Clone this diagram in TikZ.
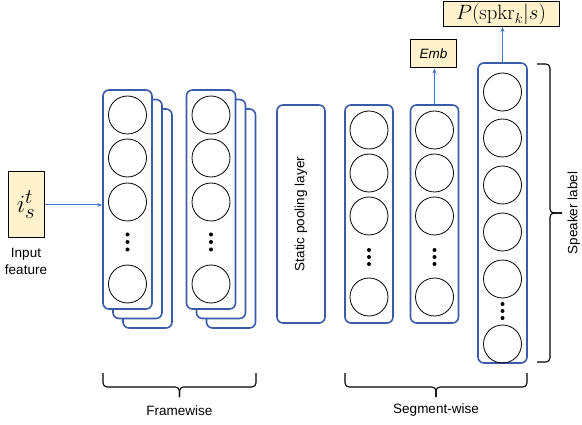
\documentclass[tikz,border=0pt]{standalone}
\usepackage[no-math]{fontspec}
\setmainfont{Liberation Sans}
\usetikzlibrary{arrows.meta}
\definecolor{laybl}{RGB}{58,92,168}
\definecolor{arrbl}{RGB}{68,114,196}
\definecolor{noteyel}{RGB}{255,242,204}
\tikzset{
  layer/.style={draw=laybl, line width=1.6pt, rounded corners=6pt, fill=white, inner sep=0pt},
  neuron/.style={circle, draw=black, line width=0.8pt, minimum size=38pt, inner sep=0pt},
  dotmark/.style={circle, fill=black, minimum size=4pt, inner sep=0pt},
  notebox/.style={draw=black, line width=1pt, fill=noteyel, inner sep=0pt},
  flow/.style={draw=arrbl, line width=1pt, -{Stealth[length=5pt,width=4pt]}},
  bracket/.style={draw=black, line width=1.1pt, rounded corners=4pt},
  lbl/.style={font=\fontsize{13.5}{16.5}\selectfont, align=center, inner sep=0pt}
}
\begin{document}
\begin{tikzpicture}[x=1pt,y=-1pt]
\useasboundingbox (0,0) rectangle (582,425);

% input feature
\node[notebox, minimum width=36pt, minimum height=66pt] (inp) at (26,205) {\fontsize{29}{31}\selectfont $i_s^t$};
\node[lbl] (inplbl) at (26,261.5) {Input\\feature};

% framewise stacks (two copies behind each front layer)
\foreach \cx/\nm in {127.5/fa, 211/fb}{
  \node[layer, minimum width=49pt, minimum height=219pt] (\nm3) at (\cx+20,218.5) {};
  \node[layer, minimum width=49pt, minimum height=219pt] (\nm2) at (\cx+10,209) {};
  \node[layer, minimum width=49pt, minimum height=219pt] (\nm) at (\cx,199.5) {};
  \foreach \cy/\k in {115/1,158/2,202/3,284/4}
    \node[neuron] (\nm n\k) at (\cx,\cy) {};
  \foreach \cy/\k in {234.5/1,242/2,249.5/3}
    \node[dotmark] (\nm d\k) at (\cx,\cy) {};
}

% pooling
\node[layer, minimum width=48pt, minimum height=218pt] (pool) at (301,214) {};
\node[lbl, rotate=90] (pooltxt) at (pool.center) {Static pooling layer};

% segment-wise layers
\foreach \cx/\nm in {369/sa, 434.5/sb}{
  \node[layer, minimum width=48pt, minimum height=218pt] (\nm) at (\cx,214) {};
  \foreach \cy/\k in {130/1,173/2,216/3,297/4}
    \node[neuron] (\nm n\k) at (\cx,\cy) {};
  \foreach \cy/\k in {250/1,257/2,264/3}
    \node[dotmark] (\nm d\k) at (\cx,\cy) {};
}

% output layer
\node[layer, minimum width=49pt, minimum height=300pt] (out) at (502.5,213) {};
\foreach \cy/\k in {92/1,138/2,185/3,232/4,279/5,344/6}
  \node[neuron] (outn\k) at (502.5,\cy) {};
\foreach \cy/\k in {304/1,311/2,318/3}
  \node[dotmark] (outd\k) at (502.5,\cy) {};

% embedding and posterior boxes
\node[notebox, minimum width=46pt, minimum height=28pt] (emb) at (433.5,54) {\fontsize{13.5}{16}\selectfont\itshape Emb};
\node[notebox, minimum width=116pt, minimum height=25pt] (post) at (501,14) {\fontsize{21}{23}\selectfont $P(\mathrm{spkr}_k|s)$};

% connectors
\draw[flow] (inp.east) -- (inp.east -| fa.west);
\draw[flow] (sb.north) -- (sb.north |- emb.south);
\draw[flow] (out.north) -- (out.north |- post.south);

% braces
\coordinate (fwl) at (103,373);
\coordinate (fwr) at (256,373);
\coordinate (fwm) at (179.5,387);
\coordinate (fwt) at (179.5,397);
\draw[bracket] (fwl) -- (fwl |- fwm) -- (fwm) -- (fwt);
\draw[bracket] (fwr) -- (fwr |- fwm) -- (fwm) -- (fwt);
\node[lbl] (fwlbl) at (179.5,411) {Framewise};

\coordinate (swl) at (345,373);
\coordinate (swr) at (527,373);
\coordinate (swm) at (436,387);
\coordinate (swt) at (436,397);
\draw[bracket] (swl) -- (swl |- swm) -- (swm) -- (swt);
\draw[bracket] (swr) -- (swr |- swm) -- (swm) -- (swt);
\node[lbl] (swlbl) at (436,410) {Segment-wise};

\coordinate (spt) at (537,64);
\coordinate (spb) at (537,362);
\coordinate (spm) at (550,213);
\coordinate (spc) at (562,213);
\draw[bracket] (spt) -- (spt -| spm) -- (spm) -- (spc);
\draw[bracket] (spb) -- (spb -| spm) -- (spm) -- (spc);
\node[lbl, rotate=90] (splbl) at (574,213) {Speaker label};
\end{tikzpicture}
\end{document}
